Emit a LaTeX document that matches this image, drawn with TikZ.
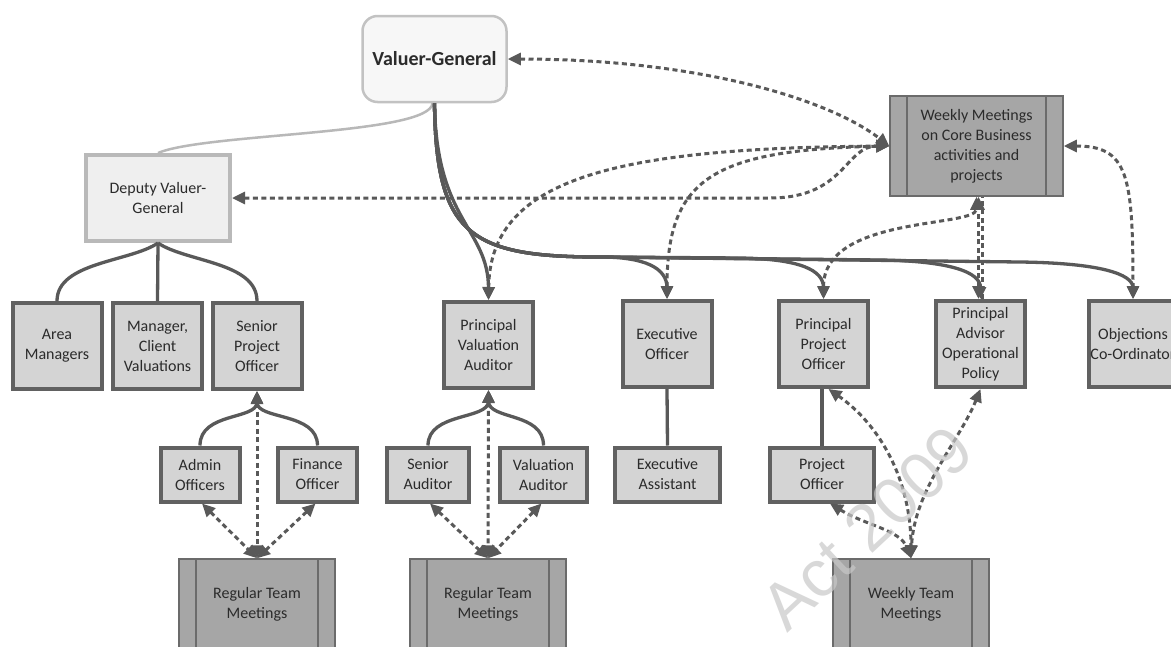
\documentclass[tikz,border=0pt]{standalone}
\usepackage{fontspec}
\setmainfont{Carlito}
\newfontfamily\wmfont{Liberation Sans}
\usetikzlibrary{arrows.meta}

\definecolor{boxfill}{HTML}{D4D4D4}
\definecolor{boxline}{HTML}{616161}
\definecolor{meetfill}{HTML}{A6A6A6}
\definecolor{meetline}{HTML}{6B6B6B}
\definecolor{conn}{HTML}{595959}
\definecolor{txt}{HTML}{2B2B2B}
\definecolor{vgfill}{HTML}{F7F7F7}
\definecolor{vgline}{HTML}{C2C2C2}
\definecolor{dvgfill}{HTML}{EFEFEF}
\definecolor{dvgline}{HTML}{B9B9B9}
\definecolor{lightlink}{HTML}{B8B8B8}
\definecolor{wmark}{HTML}{C8C8C8}

\newcommand\boxfont{\fontsize{16}{20}\selectfont}

\tikzset{
  unit/.style={draw=boxline, fill=boxfill, line width=4pt, minimum width=89pt,
    minimum height=86pt, inner sep=1pt, align=center, font=\boxfont, text=txt},
  unitsm/.style={unit, minimum height=54pt},
  meet/.style={draw=meetline, fill=meetfill, line width=1.5pt, minimum width=156pt,
    minimum height=90pt, align=center, font=\boxfont, text=txt,
    path picture={\draw[meetline, line width=1.5pt]
      ([xshift=17pt]path picture bounding box.north west) -- ([xshift=17pt]path picture bounding box.south west)
      ([xshift=-17pt]path picture bounding box.north east) -- ([xshift=-17pt]path picture bounding box.south east);}},
  solidlink/.style={draw=conn, line width=3.3pt},
  solidarrow/.style={solidlink, -{Triangle[length=12pt,width=11pt]}},
  dotlink/.style={draw=conn, line width=3pt, dash pattern=on 5pt off 3.5pt,
    {Triangle[length=13pt,width=12pt]}-{Triangle[length=13pt,width=12pt]}},
  dotplain/.style={draw=conn, line width=3pt, dash pattern=on 5pt off 3.5pt},
}

\begin{document}
\begin{tikzpicture}[x=1pt,y=-1pt]
\useasboundingbox (0,0) rectangle (1171,646);
\fill[white] (0,0) rectangle (1171,646);
\clip (0,0) rectangle (1171,646);

% top level
\node[draw=vgline, fill=vgfill, line width=2.5pt, rounded corners=15pt,
      minimum width=144pt, minimum height=86pt, font=\fontsize{20}{24}\selectfont\bfseries,
      text=txt] (vg) at (434.5,59) {Valuer-General};
\node[draw=dvgline, fill=dvgfill, line width=4pt, minimum width=144pt, minimum height=86pt,
      align=center, font=\boxfont, text=txt] (dvg) at (158,198) {Deputy Valuer-\\General};
\node[meet, minimum width=173pt, minimum height=100pt] (core) at (976.5,146)
      {Weekly Meetings\\on Core Business\\activities and\\projects};

% first row of units
\node[unit] (area) at (57,346) {Area\\Managers};
\node[unit] (mcv)  at (157.5,346) {Manager,\\Client\\Valuations};
\node[unit] (spo)  at (257,346) {Senior\\Project\\Officer};
\node[unit] (pva)  at (488.5,345) {Principal\\Valuation\\Auditor};
\node[unit] (exo)  at (667,344) {Executive\\Officer};
\node[unit] (ppo)  at (823.5,344) {Principal\\Project\\Officer};
\node[unit] (paop) at (980.5,344) {Principal\\Advisor\\Operational\\Policy};
\node[unit] (obj)  at (1133,344) {Objections\\Co-Ordinator};

% second row of units
\node[unitsm, minimum width=79pt]  (admin) at (200,474.5) {Admin\\Officers};
\node[unitsm, minimum width=79pt]  (fin)   at (317.5,474.5) {Finance\\Officer};
\node[unitsm, minimum width=82pt]  (sa)    at (428,474.5) {Senior\\Auditor};
\node[unitsm, minimum width=87pt]  (va)    at (543.5,474.5) {Valuation\\Auditor};
\node[unitsm, minimum width=105pt] (ea)    at (667.5,474.5) {Executive\\Assistant};
\node[unitsm, minimum width=104pt] (po)    at (822,474.5) {Project\\Officer};

% team meetings
\node[meet] (rtm1) at (257,604) {Regular Team\\Meetings};
\node[meet] (rtm2) at (488,604) {Regular Team\\Meetings};
\node[meet] (wtm)  at (911,604) {Weekly Team\\Meetings};

% reporting lines
\draw[draw=lightlink, line width=2.5pt] ([xshift=-2pt]vg.south) .. controls (430,135) and (205,133) .. (dvg.north);

\draw[solidarrow] (vg.south) .. controls (436,222) and (488.5,228) .. (pva.north);
\draw[solidarrow] (vg.south) .. controls (436,235) and (470,257) .. (600,257)
      .. controls (645,257) and (667,268) .. (exo.north);
\draw[solidarrow] (vg.south) .. controls (436,235) and (470,257) .. (600,257) -- (740,258)
      .. controls (800,259) and (823.5,270) .. (ppo.north);
\draw[solidarrow] (vg.south) .. controls (436,235) and (470,257) .. (600,257) -- (880,260)
      .. controls (950,261) and (980.5,272) .. (paop.north);
\draw[solidarrow] (vg.south) .. controls (436,235) and (470,257) .. (600,257) -- (1020,262)
      .. controls (1100,263) and (1133,274) .. (obj.north);

\draw[solidlink] (dvg.south) .. controls (130,262) and (57,262) .. (area.north);
\draw[solidlink] (dvg.south) -- (mcv.north);
\draw[solidlink] (dvg.south) .. controls (186,262) and (257,262) .. (spo.north);

\draw[solidarrow] (admin.north) .. controls (200,412) and (257,420) .. (spo.south);
\draw[solidarrow] (fin.north) .. controls (317.5,412) and (257,420) .. (spo.south);
\draw[solidarrow] (sa.north) .. controls (428,412) and (488.5,420) .. (pva.south);
\draw[solidarrow] (va.north) .. controls (543.5,412) and (488.5,420) .. (pva.south);

\draw[solidlink] (exo.south) -- (ea.north);
\draw[solidlink] ([xshift=-1.5pt]ppo.south) -- (po.north);

% meeting links
\draw[dotlink] (spo.south) -- (rtm1.north);
\draw[dotlink] ([xshift=2pt]admin.south) -- (rtm1.north);
\draw[dotlink] ([xshift=-2pt]fin.south) -- (rtm1.north);
\draw[dotlink] (pva.south) -- (rtm2.north);
\draw[dotlink] ([xshift=2pt]sa.south) -- (rtm2.north);
\draw[dotlink] ([xshift=-2pt]va.south) -- (rtm2.north);

\draw[dotlink] (vg.east) .. controls (700,59) and (830,100) .. (core.west);
\draw[dotlink] (dvg.east) -- (770,198) .. controls (845,198) and (845,146) .. (core.west);
\draw[dotlink] (pva.north) .. controls (490,180) and (610,148) .. (core.west);
\draw[dotlink] (exo.north) .. controls (667,180) and (710,150) .. (core.west);
\draw[dotlink] (ppo.north) .. controls (823.5,215) and (976.5,228) .. (core.south);
\draw[dotlink] ([xshift=-2pt]paop.north) -- ([xshift=-2pt]paop.north |- core.south);
\draw[dotplain] ([xshift=2pt]paop.north) -- ([xshift=2pt]paop.north |- core.south);
\draw[dotlink] (core.east) .. controls (1128,146) and (1133,175) .. (obj.north);

\draw[dotlink] ([xshift=5pt]ppo.south) .. controls (880,425) and (911,480) .. (wtm.north);
\draw[dotlink] (paop.south) .. controls (960,440) and (914,490) .. (wtm.north);
\draw[dotlink] ([xshift=8pt]po.south) .. controls (865,525) and (900,530) .. (wtm.north);

% watermark
\node[rotate=43, font=\wmfont\fontsize{66}{70}\selectfont, text=wmark, opacity=0.7] (wm) at (867,528) {Act 2009};
\end{tikzpicture}
\end{document}
